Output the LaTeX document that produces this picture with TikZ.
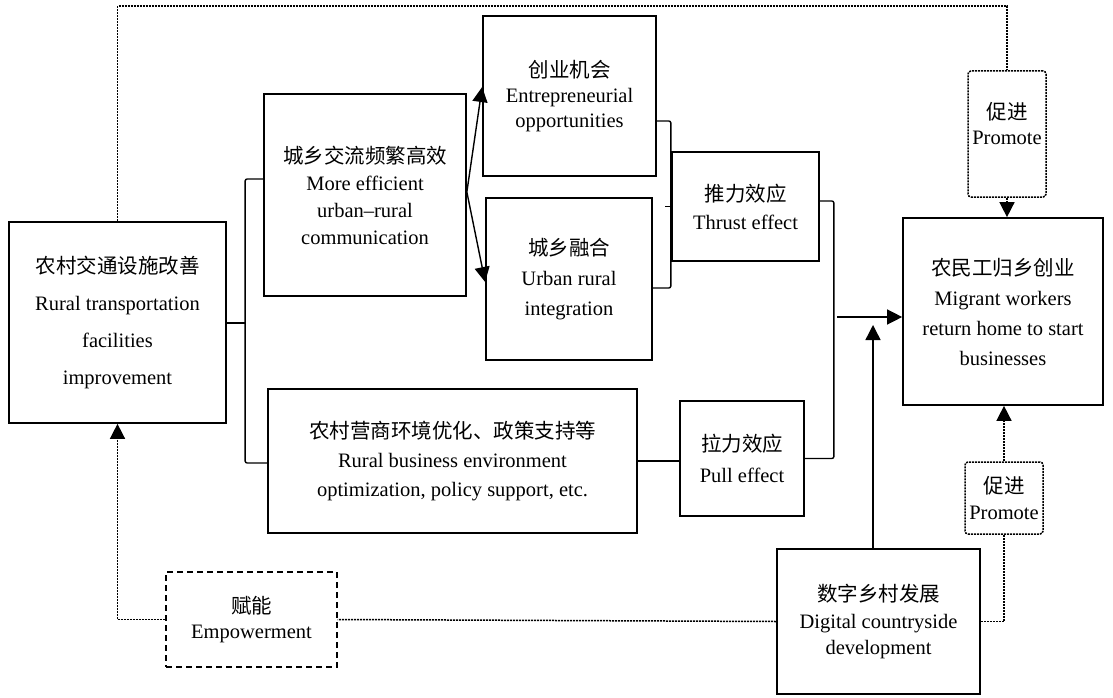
\documentclass[tikz,border=0pt]{standalone}
\usepackage{fontspec}
\setmainfont{Liberation Serif}
\newfontfamily\cjk{Noto Sans CJK SC}
\usetikzlibrary{arrows.meta}
\newcommand{\zs}[1]{\fontsize{20.5}{#1}\selectfont}
\tikzset{
	kasten/.style={draw, line width=1.7pt, align=center, inner sep=0pt},
	linie/.style={line width=1.4pt},
	punkt/.style={line width=1.5pt, dash pattern=on 2pt off 1pt},
	pfeil/.style={-{Triangle[length=15pt,width=15pt]}}
}
\begin{document}
\begin{tikzpicture}[x=1pt, y=-1pt]
	\useasboundingbox (0,0) rectangle (1113,698);
	% Kaesten links und Mitte
	\node[kasten, font=\zs{37}, minimum width=217, minimum height=201] (ncjt) at (117.5, 322.5)
		{{\cjk 农村交通设施改善}\\Rural transportation\\facilities\\improvement};
	\node[kasten, font=\zs{27}, minimum width=202, minimum height=202] (jl) at (365, 195)
		{{\cjk 城乡交流频繁高效}\\More efficient\\urban--rural\\communication};
	\node[kasten, font=\zs{25}, minimum width=173, minimum height=160] (cyjh) at (569.5, 96)
		{{\cjk 创业机会}\\Entrepreneurial\\opportunities};
	\node[kasten, font=\zs{30}, minimum width=166, minimum height=162] (rh) at (569, 279)
		{{\cjk 城乡融合}\\Urban rural\\integration};
	\node[kasten, font=\zs{28}, minimum width=147, minimum height=109] (tl) at (745.5, 206.5)
		{{\cjk 推力效应}\\Thrust effect};
	\node[kasten, font=\zs{29}, minimum width=369, minimum height=144] (yshj) at (452.5, 461)
		{{\cjk 农村营商环境优化、政策支持等}\\Rural business environment\\optimization, policy support, etc.};
	\node[kasten, font=\zs{31}, minimum width=124, minimum height=115] (ll) at (742, 458.5)
		{{\cjk 拉力效应}\\Pull effect};
	% Kaesten rechts
	\node[kasten, font=\zs{30}, minimum width=200, minimum height=187] (nmg) at (1003, 311.5)
		{{\cjk 农民工归乡创业}\\Migrant workers\\return home to start\\businesses};
	\node[kasten, font=\zs{26.5}, minimum width=203, minimum height=145] (szxc) at (878.5, 621.5)
		{{\cjk 数字乡村发展}\\Digital countryside\\development};
	% gepunktete und gestrichelte Kaesten
	\node[kasten, punkt, rounded corners=3pt, font=\zs{25}, text depth=22pt, minimum width=78, minimum height=126] (foerd1) at (1007, 134)
		{{\cjk 促进}\\Promote};
	\node[kasten, punkt, rounded corners=3pt, font=\zs{26}, minimum width=78, minimum height=72] (foerd2) at (1004, 498)
		{{\cjk 促进}\\Promote};
	\node[kasten, line width=1.4pt, dash pattern=on 6pt off 4pt, font=\zs{25}, minimum width=171, minimum height=95] (fn) at (251.5, 619.5)
		{{\cjk 赋能}\\Empowerment};

	% Klammer links
	\coordinate (k1) at (246, 323);
	\draw[linie] (ncjt.east |- k1) -- (k1);
	\draw[linie, rounded corners=2pt] ([yshift=16pt]jl.west) -- ++(-18,0) |- ([yshift=-2pt]yshj.west);
	% Pfeile zu Chancen und Integration
	\draw[linie, pfeil] ([yshift=3pt]jl.east) -- ([yshift=9pt]cyjh.west);
	\draw[linie, pfeil] ([yshift=3pt]jl.east) -- ([yshift=-3pt]rh.west);
	% Klammer Mitte
	\draw[linie, rounded corners=2pt] ([yshift=-25pt]cyjh.east) -- ++(14,0) |- ([yshift=-9pt]rh.east);
	\draw[linie] (665, 206.5) -- (tl.west);
	% Klammer rechts
	\draw[linie, rounded corners=2pt] ([yshift=5.5pt]tl.east) -- ++(14,0) |- (ll.east);
	\draw[linie] (yshj.east) -- (yshj.east -| ll.west);
	\coordinate (k3) at (837, 317);
	\draw[linie, pfeil] (k3) -- (k3 -| nmg.west);
	\coordinate (k4) at (873, 325);
	\draw[linie, pfeil] (szxc.north -| k4) -- (k4);

	% gepunktete Verbindungen
	\draw[punkt] (ncjt.north) -- ++(0,-215) -| (foerd1.north);
	\draw[punkt, pfeil] (foerd1.south) -- (foerd1.south |- nmg.north);
	\draw[punkt] (szxc.east) -| (foerd2.south);
	\draw[punkt, pfeil] (foerd2.north) -- (foerd2.north |- nmg.south);
	\draw[punkt] (szxc.west) -- (fn.east);
	\draw[punkt, pfeil] (fn.west) -| (ncjt.south);
\end{tikzpicture}
\end{document}
